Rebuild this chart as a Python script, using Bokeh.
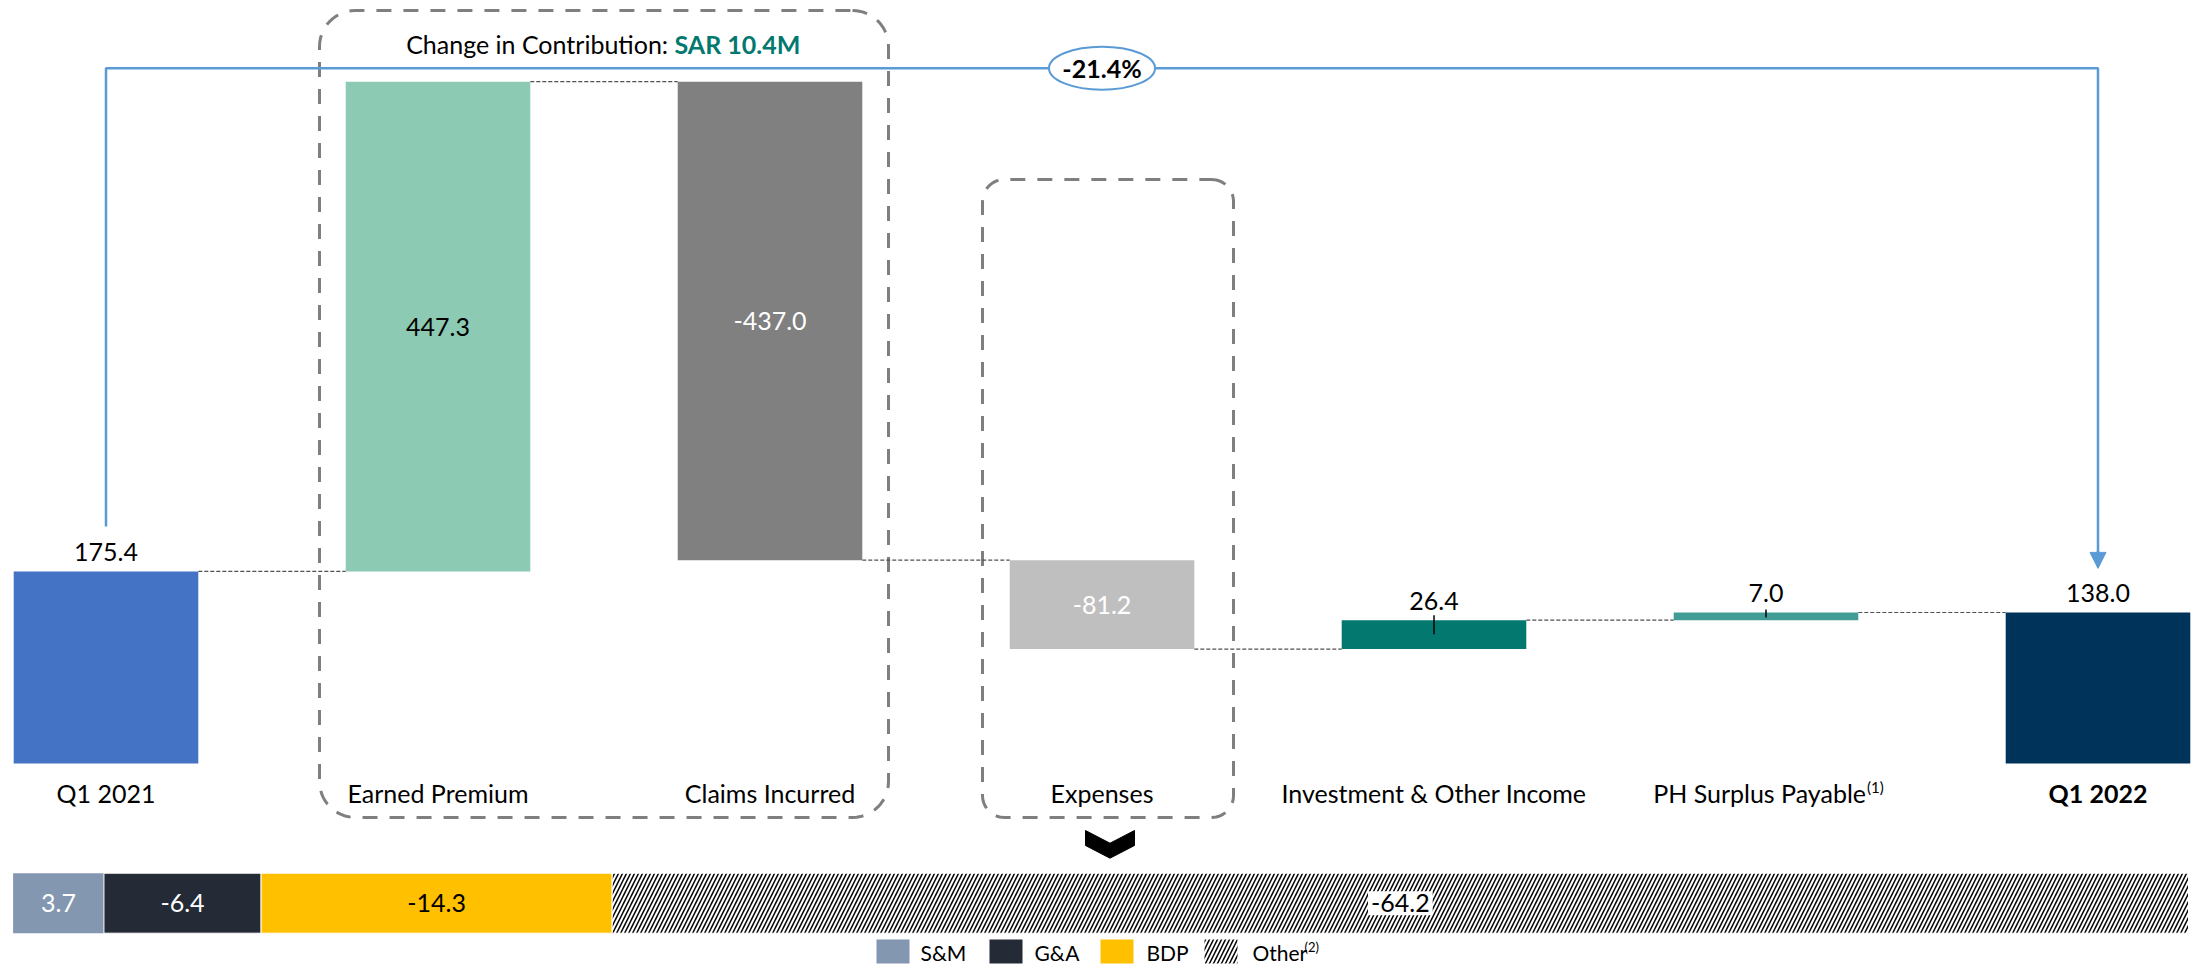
import math
from bokeh.plotting import figure
from bokeh.models import Range1d, Arrow, NormalHead
from bokeh.core.properties import value
from bokeh.embed import file_html
from bokeh.resources import INLINE

# ---------------- data ----------------
categories = ["Q1 2021", "Earned Premium", "Claims Incurred", "Expenses",
              "Investment & Other Income", "PH Surplus Payable", "Q1 2022"]
steps = [175.4, 447.3, -437.0, -81.2, 26.4, 7.0, 138.0]
kinds = ["total", "delta", "delta", "delta", "delta", "delta", "total"]
cat_superscripts = ["", "", "", "", "", "(1)", ""]
cat_bold = [False, False, False, False, False, False, True]

change_pct = "-21.4%"
contribution_text = "Change in Contribution: "
contribution_value = "SAR 10.4M"

exp_names = ["S&M", "G&A", "BDP", "Other"]
exp_values = [3.7, -6.4, -14.3, -64.2]
exp_superscripts = ["", "", "", "(2)"]

# ---------------- styles ----------------
bar_colors = ["#4472C4", "#8CCAB3", "#808080", "#BFBFBF", "#02786F", "#409C94", "#00335A"]
label_colors = ["black", "black", "white", "white", "black", "black", "black"]
label_pos = ["above", "inside", "inside", "inside", "above", "above", "above"]
exp_colors = ["#8497B0", "#252B36", "#FFC000", "white"]
exp_label_colors = ["white", "white", "black", "black"]
BLUE = "#5B9BD5"
TEAL = "#02786F"
BOX_GRAY = "#7F7F7F"
FONT = value("Lato")
FS = "25px"
HATCH = dict(hatch_pattern="/", hatch_color="black", hatch_scale=8, hatch_weight=1.5)

# ---------------- layout (pixels) ----------------
W, H = 2191, 964
M = 0
CAT_PX0, CAT_PX = 105.5, 332.0
ZERO_PY, K = 763.0, 1.095
BAR_W = 0.556


def xd(px):
    return (px - CAT_PX0) / CAT_PX


def yd(py):
    return (ZERO_PY - py) / K


p = figure(width=W, height=H, x_range=Range1d(xd(M), xd(M + W)),
           y_range=Range1d(yd(M + H), yd(M)), output_backend="svg",
           toolbar_location=None, x_axis_type=None, y_axis_type=None,
           min_border=0, min_border_left=0, min_border_right=0,
           min_border_top=0, min_border_bottom=0)
p.grid.visible = False
p.outline_line_color = None
p.background_fill_color = "white"
p.border_fill_color = "white"

# ---------------- waterfall computation ----------------
bottoms, tops, ends = [], [], []
cum = 0.0
for v, kd in zip(steps, kinds):
    if kd == "total":
        b, t = 0.0, v
        cum = v
    else:
        s, e = cum, cum + v
        b, t = min(s, e), max(s, e)
        cum = e
    bottoms.append(b)
    tops.append(t)
    ends.append(cum)

xs = list(range(len(categories)))


# dashed outline boxes (drawn first so bars lie above)
def rounded_path(x0, y0, x1, y1, r, n=14):
    pts = []
    corners = [((x1 - r, y0 + r), -90, 0), ((x1 - r, y1 - r), 0, 90),
               ((x0 + r, y1 - r), 90, 180), ((x0 + r, y0 + r), 180, 270)]
    for (cx, cy), a0, a1 in corners:
        for i in range(n + 1):
            a = math.radians(a0 + (a1 - a0) * i / n)
            pts.append((cx + r * math.cos(a), cy + r * math.sin(a)))
    pts.append(pts[0])
    return [xd(a) for a, b in pts], [yd(b) for a, b in pts]


for (bx0, by0, bx1, by1, r) in [(319, 10, 888, 817, 36), (982, 179, 1233, 817, 22)]:
    rx, ry = rounded_path(bx0, by0, bx1, by1, r)
    p.line(rx, ry, line_color=BOX_GRAY, line_width=3, line_dash="15 12")

# connectors
for i in range(len(xs) - 1):
    p.line([xs[i] + BAR_W / 2, xs[i + 1] - BAR_W / 2], [ends[i], ends[i]],
           line_color="#505050", line_width=1.2, line_dash="4 2")

# bars
p.vbar(x=xs, width=BAR_W, bottom=bottoms, top=tops, fill_color=bar_colors,
       line_color=None)

# small ticks on the income bars
for i, (up, down) in {4: (5, 14), 5: (3, 5)}.items():
    p.line([xs[i], xs[i]], [tops[i] + up / K, tops[i] - down / K],
           line_color="black", line_width=1.5)

# value labels
for i, v in enumerate(steps):
    if label_pos[i] == "inside":
        y = (bottoms[i] + tops[i]) / 2
    else:
        y = tops[i] + 19 / K
    p.text(x=[xs[i]], y=[y], text=[f"{v:.1f}"], text_font=FONT, text_font_size=FS,
           text_color=label_colors[i], text_align="center", text_baseline="middle")

# category labels
CAT_Y = yd(792)
for i, c in enumerate(categories):
    style = "bold" if cat_bold[i] else "normal"
    if cat_superscripts[i]:
        xr = xs[i] + 100 / CAT_PX
        p.text(x=[xr], y=[CAT_Y], text=[c], text_font=FONT, text_font_size=FS,
               text_font_style=style, text_color="black", text_align="right",
               text_baseline="middle")
        p.text(x=[xr + 1 / CAT_PX], y=[yd(786)], text=[cat_superscripts[i]], text_font=FONT,
               text_font_size="15px", text_color="black", text_align="left",
               text_baseline="middle")
    else:
        p.text(x=[xs[i]], y=[CAT_Y], text=[c], text_font=FONT, text_font_size=FS,
               text_font_style=style, text_color="black", text_align="center",
               text_baseline="middle")

# contribution title
p.text(x=[xd(674)], y=[yd(43)], text=[contribution_text], text_font=FONT, text_font_size=FS,
       text_color="black", text_align="right", text_baseline="middle")
p.text(x=[xd(674)], y=[yd(43)], text=[contribution_value], text_font=FONT, text_font_size=FS,
       text_font_style="bold", text_color=TEAL, text_align="left", text_baseline="middle")

# blue change bracket
first, last = 0, len(xs) - 1
top_line = yd(67.7)
p.line([xs[first], xs[first], xs[last], xs[last]],
       [tops[first] + 45 / K, top_line, top_line, tops[last] + 60 / K],
       line_color=BLUE, line_width=2.5)
p.add_layout(Arrow(end=NormalHead(size=16, fill_color=BLUE, line_color=BLUE),
                   x_start=xs[last], y_start=tops[last] + 62 / K,
                   x_end=xs[last], y_end=tops[last] + 44 / K,
                   line_color=BLUE, line_width=2.5))
mid = (xs[first] + xs[last]) / 2
p.ellipse(x=[mid], y=[top_line], width=106, height=43, width_units="screen",
          height_units="screen", fill_color="white", line_color=BLUE, line_width=2)
p.text(x=[mid], y=[top_line], text=[change_pct], text_font=FONT, text_font_size=FS,
       text_font_style="bold", text_color="black", text_align="center", text_baseline="middle")

# chevron under expenses
chev = [(1085, 830), (1109.5, 842.7), (1134, 830), (1134, 845), (1109.5, 857.7), (1085, 845)]
p.patch([xd(a) for a, b in chev], [yd(b) for a, b in chev], fill_color="black", line_color="black")

# ---------------- expense breakdown bar ----------------
BD_PX0, BD_PX1 = 12.6, 2188.0
tot = sum(abs(v) for v in exp_values)
sc = (BD_PX1 - BD_PX0) / tot
p.extra_x_ranges = {"bd": Range1d((M - BD_PX0) / sc, (M + W - BD_PX0) / sc)}
lefts, rights = [], []
c = 0.0
for v in exp_values:
    lefts.append(c)
    c += abs(v)
    rights.append(c)
bd_top, bd_bot = yd(872.7), yd(932.7)
for i in range(len(exp_values)):
    kw = HATCH if exp_names[i] == "Other" else {}
    p.quad(left=[lefts[i]], right=[rights[i]], bottom=[bd_bot], top=[bd_top],
           fill_color=exp_colors[i], line_color="white" if i else None, line_width=1,
           x_range_name="bd", **kw)
for i, v in enumerate(exp_values):
    kw = {}
    if exp_names[i] == "Other":
        kw = dict(background_fill_color="white", padding=3)
    p.text(x=[(lefts[i] + rights[i]) / 2], y=[(bd_top + bd_bot) / 2], text=[f"{v:.1f}"],
           text_font=FONT, text_font_size=FS, text_color=exp_label_colors[i],
           text_align="center", text_baseline="middle", x_range_name="bd", **kw)

# legend
leg_sq = [876, 989, 1100, 1204]
leg_tx = [920, 1034, 1146, 1252]
LT, LB = 939, 963
for i, name in enumerate(exp_names):
    kw = HATCH if name == "Other" else {}
    p.quad(left=[xd(leg_sq[i])], right=[xd(leg_sq[i] + 33)], top=[yd(LT)], bottom=[yd(LB)],
           fill_color=exp_colors[i], line_color=None, **kw)
    p.text(x=[xd(leg_tx[i])], y=[yd(952)], text=[name], text_font=FONT, text_font_size="21px",
           text_color="black", text_align="left", text_baseline="middle")
    if exp_superscripts[i]:
        p.text(x=[xd(leg_tx[i] + 52)], y=[yd(946)], text=[exp_superscripts[i]], text_font=FONT,
               text_font_size="13px", text_color="black", text_align="left",
               text_baseline="middle")

open("out.html", "w").write(file_html(p, INLINE))
